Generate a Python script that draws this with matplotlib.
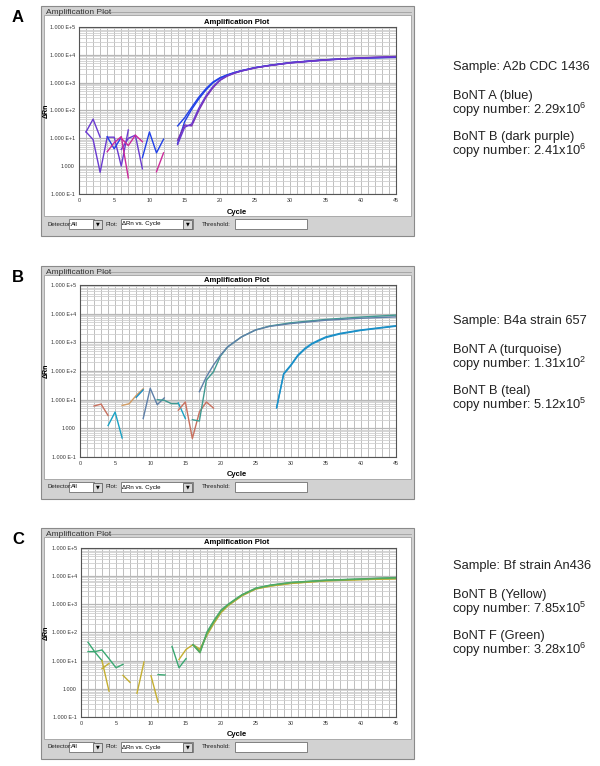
import matplotlib
matplotlib.use("Agg")
import matplotlib.pyplot as plt
from matplotlib.patches import Rectangle
from matplotlib.ticker import FixedLocator, LogLocator, NullFormatter

plt.rcParams['font.family'] = ['Liberation Sans', 'DejaVu Sans']
plt.rcParams['mathtext.fontset'] = 'custom'
plt.rcParams['mathtext.rm'] = 'Liberation Sans'

# ---- data ----
x_ticks = [0, 5, 10, 15, 20, 25, 30, 35, 40, 45]
y_ticks = [0.1, 1, 10, 100, 1000, 10000, 100000]
y_tick_labels = ['1.000 E-1', '1.000', '1.000 E+1', '1.000 E+2',
                 '1.000 E+3', '1.000 E+4', '1.000 E+5']

amp_x = [14, 15, 16, 17, 18, 19, 20, 21, 22, 23, 25, 27, 30, 35, 40, 45]

# panel A
a_x = [
    [1, 2, 3],
    [1, 2, 3, 4, 5, 6, 7],
    [4, 5, 6],
    [6, 7, 8, 9],
    [4, 5, 6, 7],
    [6, 7, 8, 9],
    [9, 10, 11, 12],
    [11, 12],
    amp_x, amp_x, amp_x, amp_x,
]
a_y = [
    [17, 49, 11],
    [17, 9, 0.6, 11, 11, 1.0, 20],
    [11.5, 4.2, 11],
    [4, 10, 13, 0.8],
    [3.3, 7, 11.5, 0.38],
    [10, 5.5, 13, 7.6],
    [2, 17, 3, 9.3],
    [0.63, 3],
    [28, 55, 130, 300, 600, 1050, 1500, 1900, 2300, 2700, 3500, 4200, 5300, 6700, 7700, 8300],
    [6.6, 40, 110, 260, 540, 980, 1450, 1850, 2250, 2650, 3450, 4150, 5200, 6600, 7600, 8100],
    [8.6, 30, 28, 100, 290, 650, 1200, 1700, 2150, 2600, 3400, 4100, 5200, 6600, 7800, 8700],
    [6, 25, 33, 120, 330, 720, 1250, 1750, 2200, 2600, 3400, 4100, 5100, 6500, 7700, 8500],
]

# panel B
b_late_x = [28, 29, 30, 31, 32, 33, 34, 35, 37, 40, 45]
b_x = [
    [2, 3, 4],
    [4, 5, 6],
    [6, 7, 8, 9],
    [8, 9],
    [9, 10, 11, 12],
    [11, 12, 13, 14],
    [14, 15],
    [14, 15, 16, 17, 18, 19],
    [16, 17, 18, 19, 20, 21, 22, 23, 25, 27, 30, 35, 40, 45],
    [17, 18, 19, 20, 21, 22, 23, 25, 27, 30, 35, 40, 45],
    b_late_x, b_late_x,
]
b_y = [
    [6, 7, 2.8],
    [1.25, 3.7, 0.46],
    [6.3, 7.2, 14, 24],
    [12, 22],
    [2.2, 25, 6.7, 11.5],
    [10, 9.5, 7.3, 7.3],
    [7.7, 2.2],
    [4.3, 8.3, 0.44, 3.7, 8.3, 5.1],
    [2, 1.8, 48, 93, 330, 680, 1030, 1550, 2700, 3700, 4800, 6300, 7600, 8900],
    [19, 63, 160, 355, 690, 1040, 1550, 2700, 3600, 4500, 5900, 6900, 7700],
    [5.2, 81, 160, 355, 610, 910, 1200, 1550, 2050, 2700, 3800],
    [5.2, 76, 150, 330, 570, 860, 1130, 1460, 1950, 2600, 3650],
]

# panel C
c_rise_x = [16, 17, 18, 19, 20, 21, 22, 23, 25, 27, 30, 35, 40, 45]
c_x = [
    [1, 2, 3],
    [1, 2, 3, 4, 5, 6],
    [3, 4],
    [3, 4],
    [6, 7],
    [8, 9],
    [10, 11],
    [11, 12],
    [13, 14, 15],
    amp_x,
    c_rise_x, c_rise_x, c_rise_x,
]
c_y = [
    [45, 20, 10],
    [21, 21, 24, 11.8, 5.6, 7.4],
    [10, 0.83],
    [5.2, 8],
    [3, 1.7],
    [0.7, 9],
    [2.9, 0.34],
    [3.2, 3.1],
    [32, 5.6, 11.8],
    [11, 25, 37, 23, 91, 235, 540, 915, 1380, 2080, 3600, 4500, 5600, 6900, 7600, 8200],
    [37, 26, 80, 210, 500, 880, 1330, 2000, 3500, 4400, 5500, 6800, 7500, 8100],
    [37, 20, 105, 270, 620, 1000, 1500, 2200, 3800, 4800, 6000, 7200, 8000, 8900],
    [36, 19, 95, 250, 580, 960, 1450, 2150, 3700, 4700, 5900, 7100, 7900, 8700],
]

notes_a = ['Sample: A2b CDC 1436', 'BoNT A (blue)', 'copy number: 2.29x10$^{6}$',
           'BoNT B (dark purple)', 'copy number: 2.41x10$^{6}$']
notes_b = ['Sample: B4a strain 657', 'BoNT A (turquoise)', 'copy number: 1.31x10$^{2}$',
           'BoNT B (teal)', 'copy number: 5.12x10$^{5}$']
notes_c = ['Sample: Bf strain An436', 'BoNT B (Yellow)', 'copy number: 7.85x10$^{5}$',
           'BoNT F (Green)', 'copy number: 3.28x10$^{6}$']

# ---- styles ----
blue, violet, magenta, purple = '#2040e8', '#6a3ad0', '#cc2a9a', '#7a30b0'
a_colors = [violet, violet, blue, violet, magenta, magenta, blue, magenta,
            blue, blue, purple, violet]
salmon, turq, tan, slate, teal, cblue = '#c8705e', '#1aa2c4', '#d09a62', '#5f80a8', '#3f9a92', '#1b90c8'
b_colors = [salmon, turq, tan, cblue, slate, teal, turq, salmon, teal, slate, cblue, cblue]
green, yellow = '#3aa872', '#c4ae30'
c_colors = [green, green, yellow, yellow, yellow, yellow, yellow, green, green,
            yellow, '#b8b038', green, '#55aa60']

W, H = 600, 766
fig = plt.figure(figsize=(W / 100, H / 100), dpi=100)
bg = fig.add_axes([0, 0, 1, 1])
bg.set_xlim(0, W)
bg.set_ylim(H, 0)
bg.axis('off')


def draw_window(win_top, ax_top, ax_bot, ax_left, xs, ys, colors, letter, notes, note_top):
    win_bot = ax_bot + 42
    bar_top = ax_bot + 22
    yc = ax_bot + 30
    bg.add_patch(Rectangle((41, win_top), 373, win_bot - win_top, fc='#d2d2d2', ec='#8a8a8a', lw=0.8))
    bg.add_patch(Rectangle((44, win_top + 9), 367, bar_top - win_top - 9, fc='white', ec='#a0a0a0', lw=0.6))
    bg.text(46, win_top + 6, 'Amplification Plot', fontsize=6, color='#333333', va='center')
    bg.plot([101, 411], [win_top + 6, win_top + 6], color='#a0a0a0', lw=0.6)
    # control bar
    fs = 4.4
    bg.text(47, yc, 'Detector:', fontsize=fs, va='center', color='#222222')
    bg.add_patch(Rectangle((69, yc - 5), 25, 10, fc='white', ec='#707070', lw=0.6))
    bg.text(70.5, yc, 'All', fontsize=fs, va='center')
    bg.add_patch(Rectangle((93, yc - 4.5), 9, 9, fc='#d8d8d8', ec='#606060', lw=0.6))
    bg.text(97.5, yc, '\u25bc', fontsize=3.5, ha='center', va='center', family=['DejaVu Sans'])
    bg.text(106, yc, 'Plot:', fontsize=fs, va='center', color='#222222')
    bg.add_patch(Rectangle((121, yc - 5), 72, 10, fc='white', ec='#707070', lw=0.6))
    bg.text(122.5, yc, '\u0394Rn vs. Cycle', fontsize=fs, va='center')
    bg.add_patch(Rectangle((183, yc - 4.5), 9, 9, fc='#d8d8d8', ec='#606060', lw=0.6))
    bg.text(187.5, yc, '\u25bc', fontsize=3.5, ha='center', va='center', family=['DejaVu Sans'])
    bg.text(202, yc, 'Threshold:', fontsize=fs, va='center', color='#222222')
    bg.add_patch(Rectangle((235, yc - 5), 72, 10, fc='white', ec='#707070', lw=0.6))

    bg.text(12, win_top + 12, letter, fontsize=12, weight='bold', va='center')
    bg.text(237, ax_top - 5, 'Amplification Plot', fontsize=5.5, weight='bold', ha='center', va='center')
    bg.text(237, ax_bot + 18, 'Cycle', fontsize=5.5, weight='bold', ha='center', va='center')
    bg.text(46.5, (ax_top + ax_bot) / 2, '\u0394Rn', fontsize=5, weight='bold', rotation=90,
            ha='center', va='center')

    offs = [0, 29, 43, 70, 84]
    for o, s in zip(offs, notes):
        x0 = 452.2 if '$' in s else 453
        bg.text(x0, note_top + o, s, fontsize=9.3, va='center', color='#222222')

    ax = fig.add_axes([ax_left / W, 1 - ax_bot / H, (396 - ax_left) / W, (ax_bot - ax_top) / H])
    for x, y, c in zip(xs, ys, colors):
        ax.plot(x, y, color=c, lw=1.0)
    ax.set_yscale('log')
    ax.set_xlim(0, 45)
    ax.set_ylim(0.1, 1e5)
    ax.xaxis.set_major_locator(FixedLocator(x_ticks))
    ax.xaxis.set_minor_locator(FixedLocator(range(46)))
    ax.set_yticks(y_ticks)
    ax.set_yticklabels(y_tick_labels)
    ax.yaxis.set_minor_locator(LogLocator(base=10, subs=[2, 3, 4, 5, 6, 7, 8, 9], numticks=20))
    ax.yaxis.set_minor_formatter(NullFormatter())
    ax.grid(True, which='both', axis='x', color='#b4b4b4', lw=0.6)
    ax.grid(True, which='minor', axis='y', color='#cfcfcf', lw=0.6)
    ax.grid(True, which='major', axis='y', color='#b8b8b8', lw=0.9)
    ax.set_axisbelow(True)
    ax.tick_params(which='both', length=0, labelsize=3.9, pad=3, colors='#333333')
    for sp in ax.spines.values():
        sp.set_color('#555555')
        sp.set_linewidth(0.8)


draw_window(6, 27, 194, 79, a_x, a_y, a_colors, 'A', notes_a, 67)
draw_window(266, 285, 457, 80, b_x, b_y, b_colors, 'B', notes_b, 321)
draw_window(528, 548, 717, 81, c_x, c_y, c_colors, 'C', notes_c, 566)

fig.savefig('out.png', dpi=100)
